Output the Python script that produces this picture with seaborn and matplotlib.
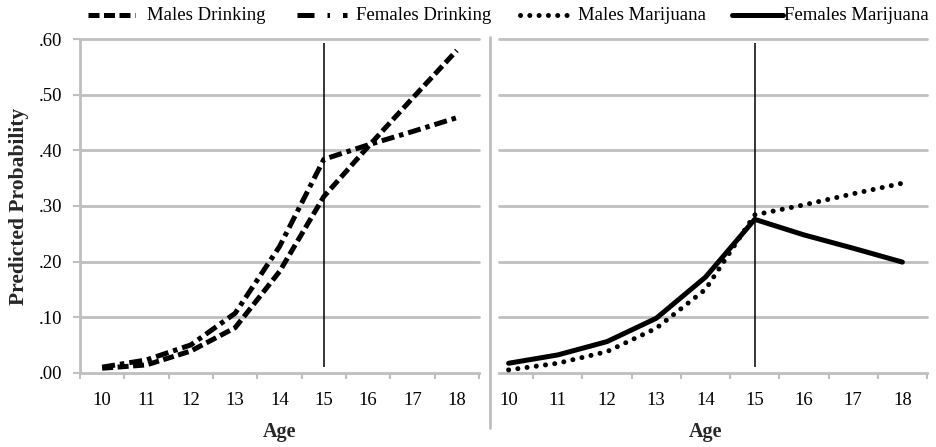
import matplotlib
matplotlib.use("Agg")
import matplotlib.pyplot as plt
from matplotlib.lines import Line2D
import seaborn as sns

# values (predicted probability by age)
ages = [10, 11, 12, 13, 14, 15, 16, 17, 18]
males_drinking = [0.008, 0.014, 0.039, 0.081, 0.182, 0.317, 0.407, 0.494, 0.580]
females_drinking = [0.010, 0.023, 0.050, 0.107, 0.227, 0.384, 0.410, 0.434, 0.459]
males_marijuana = [0.005, 0.017, 0.038, 0.080, 0.150, 0.284, 0.302, 0.322, 0.341]
females_marijuana = [0.017, 0.032, 0.056, 0.098, 0.172, 0.276, 0.248, 0.224, 0.199]
cutoff_age = 15

series_names = ['Males Drinking', 'Females Drinking', 'Males Marijuana', 'Females Marijuana']
y_ticks = [0.0, 0.1, 0.2, 0.3, 0.4, 0.5, 0.6]
y_tick_labels = ['.00', '.10', '.20', '.30', '.40', '.50', '.60']

sns.set_theme(style="white")
plt.rcParams['font.family'] = ['Liberation Serif', 'DejaVu Serif']

grey = '#BFBFBF'
lw = 3.6
styles = [dict(linestyle=(0, (2.2, 0.9)), dash_capstyle='butt'),
          dict(linestyle=(0, (2.6, 1, 0.9, 1)), dash_capstyle='butt'),
          dict(linestyle=(0, (0.01, 1.85)), dash_capstyle='round'),
          dict(linestyle='-', solid_capstyle='round')]
# the legend sample of the dash-dot line shows a dash and two dots
legend_styles = [styles[0], dict(linestyle=(0, (3.4, 2.6, 0.5, 2.6, 0.9, 5)), dash_capstyle='butt'),
                 styles[2], styles[3]]

fig = plt.figure(figsize=(9.36, 4.47), dpi=100)
ax1 = fig.add_axes([80/936, 74.3/447, 399/936, 333.4/447])
ax2 = fig.add_axes([484/936, 74.3/447, 443/936, 333.4/447])

# left panel: drinking
sns.lineplot(x=ages, y=males_drinking, ax=ax1, color='black', linewidth=lw, **styles[0])
sns.lineplot(x=ages, y=females_drinking, ax=ax1, color='black', linewidth=lw, **styles[1])

# right panel: marijuana
sns.lineplot(x=ages, y=males_marijuana, ax=ax2, color='black', linewidth=lw, **styles[2])
sns.lineplot(x=ages, y=females_marijuana, ax=ax2, color='black', linewidth=lw, **styles[3])

for ax, gstart in [(ax1, 0.0), (ax2, 0.034)]:
    ax.set_xlim(9.5, 18.5)
    ax.set_ylim(0, 0.6)
    for y in y_ticks[1:]:
        ax.axhline(y, xmin=gstart, xmax=1, color=grey, lw=2, zorder=0, clip_on=False)
    ax.vlines(cutoff_age, 0.01, 0.593, color='black', lw=1.1, zorder=3)
    ax.set_xticks(ages)
    ax.set_xticklabels([str(a) for a in ages])
    ax.tick_params(axis='x', which='major', length=0, pad=14, labelsize=13.5, colors='black')
    for s in ['top', 'right', 'left']:
        ax.spines[s].set_visible(False)
    ax.spines['bottom'].set_color(grey)
    ax.spines['bottom'].set_linewidth(2)
    ax.spines['bottom'].set_zorder(0)
    ax.set_xlabel('Age', fontsize=14.5, fontweight='bold', labelpad=9)

ax1.set_xticks([9.5 + i for i in range(10)], minor=True)
ax2.set_xticks([10.5 + i for i in range(9)], minor=True)
ax2.spines['bottom'].set_bounds(9.5 + 0.034 * 9, 18.5)
for ax in (ax1, ax2):
    ax.tick_params(axis='x', which='minor', length=4, width=1.5, color=grey, direction='out', bottom=True)

ax1.spines['left'].set_visible(True)
ax1.spines['left'].set_color(grey)
ax1.spines['left'].set_linewidth(2)
ax1.set_yticks(y_ticks)
ax1.set_yticklabels(y_tick_labels)
ax1.tick_params(axis='y', length=5, width=1.5, color=grey, left=True, pad=8, labelsize=13.5, labelcolor='black')
ax1.set_ylabel('Predicted Probability', fontsize=15.5, fontweight='bold', labelpad=7)
ax2.set_yticks([])

# separator between the two panels
fig.add_artist(Line2D([490/936, 490/936], [1 - 428/447, 1 - 37/447], color=grey, lw=2))

# legend row along the top (handle start, handle end, text start in pixels)
legend_pos = [(88, 135, 147), (297, 353, 356), (520, 568, 578), (732, 783, 784)]
ly = 1 - 15/447
for name, st, (h0, h1, t0) in zip(series_names, legend_styles, legend_pos):
    fig.add_artist(Line2D([h0/936, h1/936], [ly, ly], color='black', lw=lw, **st))
    fig.text(t0/936, ly, name, fontsize=13.5, va='center', ha='left', color='black')

fig.savefig('out.png', dpi=100)
